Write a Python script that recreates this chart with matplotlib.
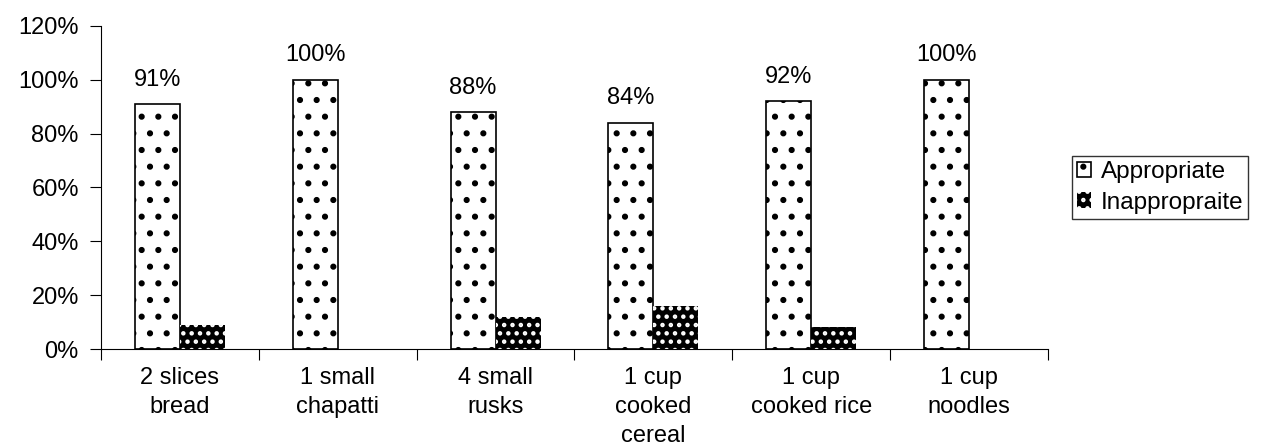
import matplotlib.pyplot as plt
import numpy as np

plt.rcParams['font.family'] = ['Liberation Sans', 'DejaVu Sans']
plt.rcParams['hatch.linewidth'] = 2.0

categories = ["2 slices\nbread", "1 small\nchapatti", "4 small\nrusks",
              "1 cup\ncooked\ncereal", "1 cup\ncooked rice", "1 cup\nnoodles"]
appropriate = [91, 100, 88, 84, 92, 100]
inappropriate = [9, 0, 12, 16, 8, 0]

fig = plt.figure(figsize=(12.63, 4.48), dpi=100)
ax = fig.add_axes([101/1263, 1-349/448, (1048-101)/1263, (349-26)/448])

x = np.arange(len(categories))
w = 0.285
ax.bar(x - w/2, appropriate, w, color='white', edgecolor='black', hatch='.', linewidth=1.2,
       label='Appropriate')
inap = [v if v > 0 else np.nan for v in inappropriate]
ax.bar(x + w/2, inap, w, color='black', edgecolor='white', hatch='..', linewidth=0,
       label='Inappropraite')

for xi, v in zip(x, appropriate):
    ax.text(xi - w/2, v + 5, f"{v}%", ha='center', va='bottom', fontsize=17)

ax.set_xlim(-0.5, len(categories) - 0.5)
ax.set_ylim(0, 120)
ax.set_yticks(range(0, 121, 20))
ax.set_yticklabels([f"{t}%" for t in range(0, 121, 20)], fontsize=17)
ax.set_xticks(np.arange(-0.5, len(categories), 1.0))
ax.set_xticklabels([])
ax.set_xticks(x, minor=True)
ax.set_xticklabels(categories, minor=True, fontsize=17, linespacing=1.4, va='top')
ax.tick_params(axis='x', which='minor', length=0, pad=13)
ax.tick_params(axis='x', which='major', length=8, direction='out')
ax.tick_params(axis='y', length=8, direction='out', pad=8)
for s in ['top', 'right']:
    ax.spines[s].set_visible(False)

leg = ax.legend(loc='center left', bbox_to_anchor=(1.025, 0.5), fontsize=17.5, frameon=True,
                fancybox=False, edgecolor='black', handlelength=0.6, handleheight=0.6,
                handletextpad=0.4, borderpad=0.2, labelspacing=0.35, borderaxespad=0)
leg.get_frame().set_linewidth(1.0)

fig.savefig('out.png', dpi=100)
